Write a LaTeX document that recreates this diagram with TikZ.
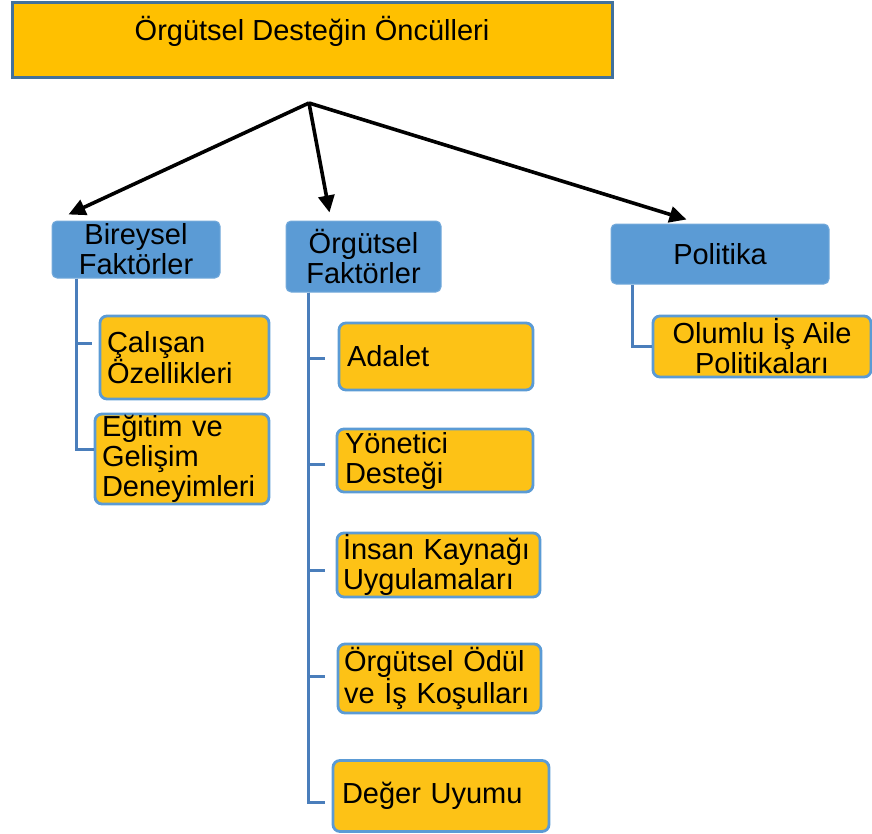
\documentclass[tikz,border=0pt]{standalone}
\usepackage{fontspec}
\setmainfont{Liberation Sans}
\usetikzlibrary{arrows.meta,calc}
\definecolor{orng}{HTML}{FFC000}
\definecolor{chorng}{HTML}{FDC216}
\definecolor{bluebox}{HTML}{5B9BD5}
\definecolor{darkedge}{HTML}{41719C}
\definecolor{lightedge}{HTML}{5B9BD5}
\definecolor{conncol}{HTML}{4A7EBB}
\begin{document}
\begin{tikzpicture}[x=1pt,y=-1pt,
  every node/.style={font=\fontsize{29}{30}\selectfont, inner sep=0pt},
  titlebox/.style={draw=darkedge, line width=3pt, fill=orng, rectangle},
  catbox/.style={fill=bluebox, draw=bluebox!85!white, line width=1pt, rounded corners=5pt, align=center},
  itembox/.style={fill=chorng, draw=lightedge, line width=2.8pt, rounded corners=7pt, align=left},
  conn/.style={draw=conncol, line width=3pt},
  arr/.style={draw=black, line width=3.6pt, -{Triangle[length=17pt,width=16pt]}}
]
\useasboundingbox (0,0) rectangle (872,833);

% title
\node[titlebox, minimum width=600pt, minimum height=75pt, text height=22pt, text depth=21pt] (title) at (312,39.5) {Örgütsel Desteğin Öncülleri};

% categories
\node[catbox, minimum width=168pt, minimum height=57pt] (bf) at (136,249.5) {Bireysel\\Faktörler};
\node[catbox, minimum width=155pt, minimum height=71pt] (of) at (363.5,256.5) {Örgütsel\\Faktörler};
\node[catbox, minimum width=218pt, minimum height=60pt] (pol) at (720,254) {Politika};

% items - bireysel
\node[itembox, minimum width=169pt, minimum height=83pt, text width=155pt, inner xsep=7pt] (cal) at (184.5,357.5) {Çalışan\\Özellikleri};
\node[itembox, minimum width=174pt, minimum height=90pt, text width=160pt, inner xsep=7pt] (egi) at (182,459) {Eğitim ve\\Gelişim\\Deneyimleri};

% items - orgutsel
\node[itembox, minimum width=194pt, minimum height=67pt, text width=178pt, inner xsep=8pt] (ada) at (436,356.5) {Adalet};
\node[itembox, minimum width=196pt, minimum height=63pt, text width=180pt, inner xsep=8pt] (yon) at (435,460.5) {Yönetici\\Desteği};
\node[itembox, minimum width=203pt, minimum height=64pt, text width=191pt, inner xsep=6pt] (ins) at (438.5,565) {İnsan Kaynağı\\Uygulamaları};
\node[itembox, minimum width=203pt, minimum height=69pt, text width=191pt, inner xsep=6pt] (odu) at (439.5,678.5) {Örgütsel Ödül\\ve İş Koşulları};
\node[itembox, minimum width=216pt, minimum height=71pt, text width=198pt, inner xsep=9pt] (deg) at (441,796) {Değer Uyumu};

% items - politika
\node[itembox, align=center, minimum width=218pt, minimum height=61pt] (olu) at (762,346.5) {Olumlu İş Aile\\Politikaları};

% arrows
\coordinate (apex) at (309,103);
\coordinate (tipB) at ($(bf.north west)+(17,-6)$);
\coordinate (tipO) at ($(of.north west)+(44,-8)$);
\coordinate (tipP) at ($(pol.north west)+(76,-4)$);
\draw[arr] (apex) -- (tipB);
\draw[arr] (apex) -- (tipO);
\draw[arr] (apex) -- (tipP);

% trunk lines
\coordinate (bt) at ($(bf.south west)+(25,0)$);
\draw[conn] (bt) |- ($(cal.west)+(-7,-14.5)$);
\draw[conn] (bt) |- ($(egi.west)+(0,-10)$);

\coordinate (ot) at ($(of.south west)+(23,0)$);
\draw[conn] (ot) |- ($(ada.west)+(-13,1.5)$);
\draw[conn] (ot) |- ($(yon.west)+(-11,3.5)$);
\draw[conn] (ot) |- ($(ins.west)+(-11,5)$);
\draw[conn] (ot) |- ($(odu.west)+(-12,-2.5)$);
\draw[conn] (ot) |- ($(deg.west)+(-7,6)$);

\coordinate (pt) at ($(pol.south west)+(22,0)$);
\draw[conn] (pt) |- (olu.west);
\end{tikzpicture}
\end{document}
